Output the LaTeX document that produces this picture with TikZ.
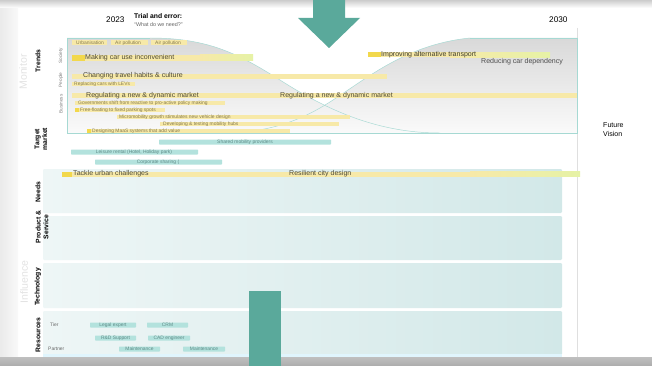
\documentclass[tikz,border=0pt]{standalone}
\usepackage{fontspec}
\setmainfont{Liberation Sans}
\usetikzlibrary{positioning}

\definecolor{arrowteal}{HTML}{5AA99B}
\definecolor{frameteal}{HTML}{A6D9D3}
\definecolor{barteal}{HTML}{B3E2DD}
\definecolor{barylw}{HTML}{F7E9A8}
\definecolor{barstrong}{HTML}{F2D84C}
\definecolor{barlime}{HTML}{E6F2A6}
\definecolor{paneleft}{HTML}{EEF6F6}
\definecolor{panelright}{HTML}{D2E8E8}
\definecolor{txtdark}{HTML}{4E4A36}
\definecolor{txtsmall}{HTML}{857A4E}
\definecolor{txtteal}{HTML}{5F8C88}

\tikzset{
    ylwbar/.style={fill=barylw},
    tealbar/.style={fill=barteal, rounded corners=0.6},
    bigtxt/.style={anchor=west, inner sep=0pt, text=txtdark, font=\fontsize{6}{7}\selectfont},
    smalltxt/.style={anchor=west, inner sep=0pt, text=txtsmall, font=\fontsize{4.2}{5}\selectfont},
    tealtxt/.style={inner sep=0pt, text=txtteal, font=\fontsize{4.2}{5}\selectfont},
    rowlbl/.style={rotate=90, align=center, inner sep=0pt, font=\bfseries\fontsize{5.8}{6.7}\selectfont},
    sublbl/.style={rotate=90, inner sep=0pt, text=gray, font=\fontsize{4}{5}\selectfont},
    zone/.style={rotate=90, inner sep=0pt, text=gray!22, font=\fontsize{9}{10}\selectfont},
    panel/.style={left color=paneleft, right color=panelright, rounded corners=1}
}

\begin{document}
\begin{tikzpicture}[x=0.3mm, y=-0.3mm]

\useasboundingbox (0,0) rectangle (652,366);

% Sfondo
\fill[white] (0,0) rectangle (652,366);
\shade[left color=gray!16, right color=gray!5] (0,0) rectangle (18,366);
\shade[top color=gray!40, bottom color=white] (0,0) rectangle (652,8);
\shade[top color=gray!50, bottom color=gray!65] (0,357) rectangle (652,366);

% Intestazione
\node[anchor=west, inner sep=0pt, font=\fontsize{7}{8}\selectfont] (yrstart) at (106,20) {2023};
\node[anchor=west, inner sep=0pt, font=\bfseries\fontsize{5.8}{7}\selectfont] (trial) at (134,16) {Trial and error:};
\node[anchor=west, inner sep=0pt, text=gray!80!black, font=\fontsize{4.6}{5}\selectfont] (need) at (134,25) {``What do we need?''};
\node[anchor=west, inner sep=0pt, font=\fontsize{7}{8}\selectfont] (yrend) at (549,20) {2030};
\node[anchor=west, align=left, inner sep=0pt, font=\fontsize{6}{7.5}\selectfont] (vision) at (603,130) {Future\\Vision};

% Linea verticale
\draw[gray!25, line width=0.8pt] (577,28) -- (577,357);

% Zona monitor: forme grigie
\shade[top color=gray!30, bottom color=gray!4]
    (67,38) -- (150,38)
    .. controls (210,38) and (240,55) .. (280,80)
    .. controls (330,112) and (380,133) .. (440,133)
    -- (67,133) -- cycle;
\shade[top color=gray!30, bottom color=gray!4]
    (220,133)
    .. controls (260,133) and (290,125) .. (320,108)
    .. controls (360,85) and (400,45) .. (470,38)
    -- (577,38) -- (577,133) -- cycle;

% Bordo teal
\draw[frameteal, line width=0.4pt]
    (150,38) -- (67,38) -- (67,133) -- (577,133) -- (577,38) -- (470,38);
\draw[frameteal, line width=0.4pt]
    (150,38)
    .. controls (210,38) and (240,55) .. (280,80)
    .. controls (330,112) and (380,133) .. (440,133);
\draw[frameteal, line width=0.4pt]
    (220,133)
    .. controls (260,133) and (290,125) .. (320,108)
    .. controls (360,85) and (400,45) .. (470,38);

% Pannelli influenza
\shade[panel] (43,169) rectangle (562,213);
\shade[panel] (43,216) rectangle (562,260);
\shade[panel] (43,263) rectangle (562,308);
\shade[panel] (43,311) rectangle (562,355);
\fill[cyan!12] (43,354) rectangle (562,357);

% Etichette laterali
\node[zone] (monitor) at (23,72) {Monitor};
\node[zone] (influence) at (24,282) {Influence};
\node[rowlbl] (trends) at (38,61) {Trends};
\node[sublbl] (society) at (61,56) {Society};
\node[sublbl] (people) at (61,80) {People};
\node[sublbl] (business) at (61,104) {Business};
\node[rowlbl] (target) at (41,139) {Target\\market};
\node[rowlbl] (needs) at (38,192) {Needs};
\node[rowlbl] (product) at (42,227) {Product \&\\Service};
\node[rowlbl] (techno) at (38,287) {Technology};
\node[rowlbl] (resources) at (38,335) {Resources};

% Trends - Society
\fill[ylwbar] (72,40.5) rectangle (107,45.5);
\fill[ylwbar] (111,40.5) rectangle (148,45.5);
\fill[ylwbar] (151,40.5) rectangle (187,45.5);
\node[smalltxt] (urban) at (76,43) {Urbanisation};
\node[smalltxt] (airpol) at (115,43) {Air pollution};
\node[smalltxt] (airpoltwo) at (155,43) {Air pollution};

\fill[ylwbar] (72,55) rectangle (200,61);
\shade[left color=barylw, right color=barlime] (200,55) rectangle (253,61);
\fill[barstrong] (72,55) rectangle (85,61);
\node[bigtxt] (inconv) at (85,58) {Making car use inconvenient};

\fill[ylwbar] (368,52.5) rectangle (450,57.5);
\shade[left color=barylw, right color=barlime] (450,52.5) rectangle (550,57.5);
\fill[barstrong] (368,52.5) rectangle (381,57.5);
\node[bigtxt, text=txtdark!80!black] (improve) at (381,55) {Improving alternative transport};
\node[bigtxt, text=gray!60!black] (reduce) at (481,62) {Reducing car dependency};

% Trends - People
\fill[ylwbar] (72,74.5) rectangle (387,79.5);
\node[bigtxt] (habits) at (83,76) {Changing travel habits \& culture};
\fill[ylwbar] (72,82) rectangle (135,86);
\node[smalltxt] (levs) at (74,84) {Replacing cars with LEVs};

% Trends - Business
\fill[ylwbar] (72,93.5) rectangle (577,98.5);
\node[bigtxt] (regulate) at (86,95.5) {Regulating a new \& dynamic market};
\node[bigtxt] (regulatetwo) at (280,95.5) {Regulating a new \& dynamic market};
\fill[ylwbar] (75,101) rectangle (225,105);
\node[smalltxt] (govern) at (78,103) {Governments shift from reactive to pro-active policy making};
\fill[ylwbar] (75,108) rectangle (165,112);
\fill[barstrong] (75,108) rectangle (79,112);
\node[smalltxt] (parking) at (80,110) {Free-floating to fixed parking spots};
\fill[ylwbar] (117,115) rectangle (350,119);
\node[smalltxt] (micro) at (119,117) {Micromobility growth stimulates new vehicle design};
\fill[ylwbar] (160,122) rectangle (339,126);
\node[smalltxt] (hubs) at (163,124) {Developing \& testing mobility hubs};
\fill[ylwbar] (87,129) rectangle (290,133);
\fill[barstrong] (87,129) rectangle (91,133);
\node[smalltxt] (maas) at (92,131) {Designing MaaS systems that add value};

% Target market
\fill[tealbar] (159,139.5) rectangle (331,144.5);
\node[tealtxt] (shared) at (245,142) {Shared mobility providers};
\fill[tealbar] (71,149.5) rectangle (198,154.5);
\node[tealtxt] (leisure) at (134,152) {Leisure rental (Hotel, Holiday park)};
\fill[tealbar] (95,159.5) rectangle (222,164.5);
\node[tealtxt] (corporate) at (158,162) {Corporate sharing (};

% Needs
\fill[ylwbar] (62,171.5) rectangle (470,176.5);
\shade[left color=barylw, right color=barlime] (470,171.5) rectangle (580,176.5);
\fill[barstrong] (62,171.5) rectangle (72,176.5);
\node[bigtxt] (tackle) at (73,174) {Tackle urban challenges};
\node[bigtxt] (resilient) at (289,174) {Resilient city design};

% Resources
\node[smalltxt, text=gray!80!black] (tier) at (50,325) {Tier};
\node[smalltxt, text=gray!80!black] (partner) at (48,349) {Partner};
\fill[tealbar] (90,322.5) rectangle (136,327.5);
\node[tealtxt] (legal) at (113,325) {Legal expert};
\fill[tealbar] (147,322.5) rectangle (188,327.5);
\node[tealtxt] (crm) at (167.5,325) {CRM};
\fill[tealbar] (95,335.5) rectangle (136,340.5);
\node[tealtxt] (rnd) at (115.5,338) {R\&D Support};
\fill[tealbar] (148,335.5) rectangle (190,340.5);
\node[tealtxt] (cad) at (169,338) {CAD engineer};
\fill[tealbar] (119,346.5) rectangle (160,351.5);
\node[tealtxt] (maint) at (139.5,349) {Maintenance};
\fill[tealbar] (183,346.5) rectangle (225,351.5);
\node[tealtxt] (mainttwo) at (204,349) {Maintenance};

% Freccia e blocco teal
\fill[arrowteal] (313,0) -- (345,0) -- (345,18) -- (360,18)
    -- (329,48) -- (298,18) -- (313,18) -- cycle;
\fill[arrowteal] (249,291) rectangle (281,366);

\end{tikzpicture}
\end{document}
